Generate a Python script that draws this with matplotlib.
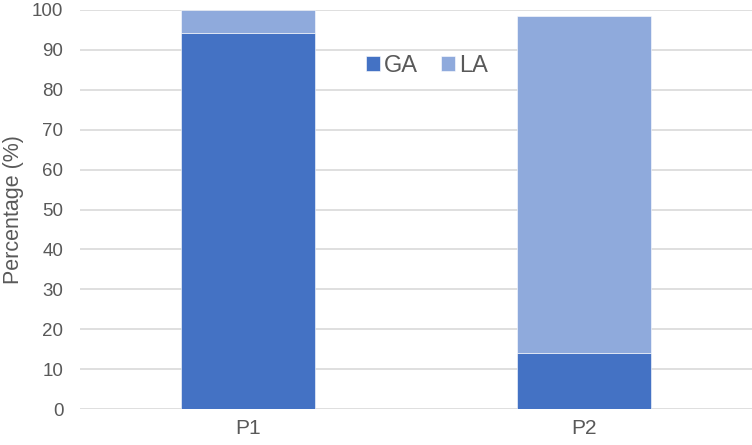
import matplotlib.pyplot as plt
import numpy as np

plt.rcParams['font.family'] = ['Liberation Sans', 'DejaVu Sans']

# data
groups = ['P1', 'P2']
ga = [94.3, 14.0]
la = [5.7, 84.4]

txt = '#595959'
fig = plt.figure(figsize=(7.52, 4.45), dpi=100)
ax = fig.add_axes([80 / 752, 36 / 445, 672 / 752, 399 / 445])

x = np.arange(len(groups))
ax.bar(x, ga, width=0.4, color='#4472C4', label='GA', edgecolor='white', linewidth=0.4, zorder=3)
ax.bar(x, la, width=0.4, bottom=ga, color='#8FAADC', label='LA', edgecolor='white', linewidth=0.4, zorder=3)

ax.set_xlim(-0.5, 1.5)
ax.set_ylim(0, 100)
ax.set_yticks(np.arange(0, 101, 10))
ax.set_xticks(x)
ax.set_xticklabels(groups)
ax.grid(axis='y', color='#D9D9D9', linewidth=1.2, zorder=0)
for s in ax.spines.values():
    s.set_visible(False)
ax.tick_params(length=0, labelsize=13.5, colors=txt, pad=12)
ax.tick_params(axis='x', labelsize=15, pad=7)
ax.set_ylabel('Percentage (%)', fontsize=15.5, color=txt, labelpad=6)

ax.legend(loc='upper center', bbox_to_anchor=(0.516, 0.94), ncol=2, frameon=False,
          fontsize=17, labelcolor=txt, handlelength=0.6, handleheight=0.6,
          handletextpad=0.15, columnspacing=1.0)

plt.savefig('out.png', dpi=100)
plt.close()
